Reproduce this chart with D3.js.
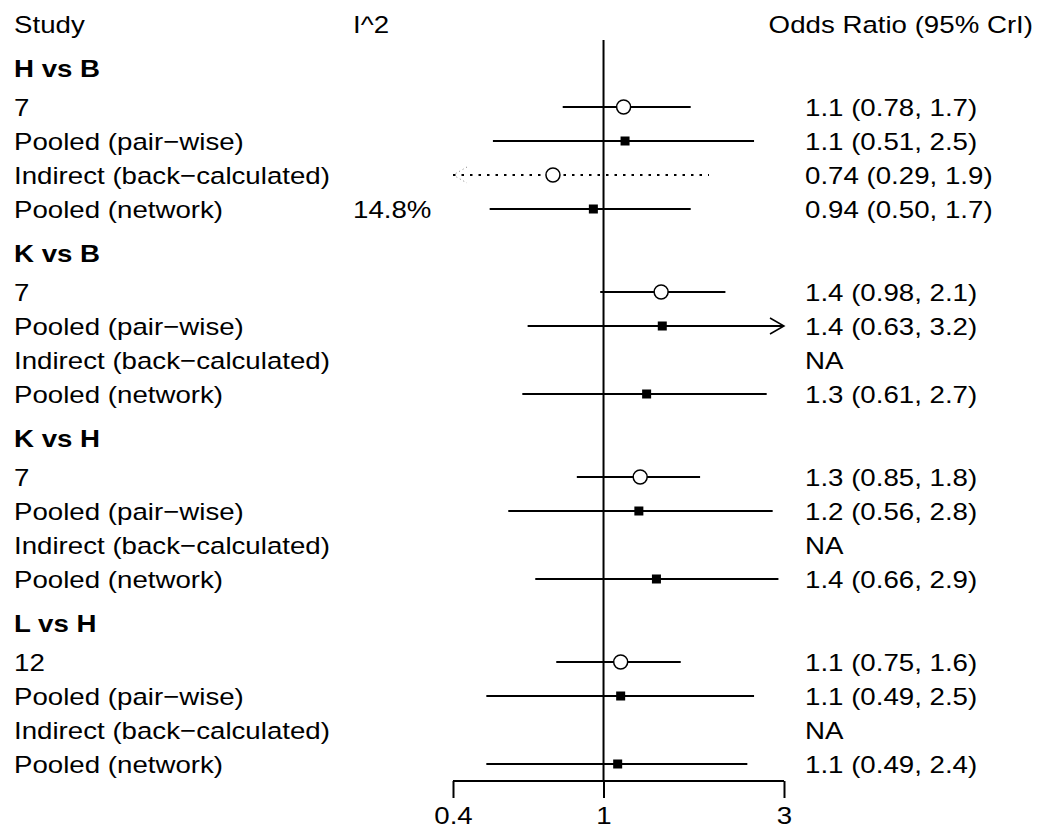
<!DOCTYPE html>
<html>
<head>
<meta charset="utf-8">
<script src="https://cdn.jsdelivr.net/npm/d3@7"></script>
<style>
  html, body { margin: 0; padding: 0; background: #fff; }
  svg { display: block; }
  text { font-family: "Liberation Sans", Arial, sans-serif; fill: #000; }
</style>
</head>
<body>
<svg id="chart" width="1042" height="830"></svg>
<script>
// ---- data ----
const comparisons = ["H vs B", "K vs B", "K vs H", "L vs H"];
const studyCounts = ["7", "7", "7", "12"];
const rowTypes = ["Pooled (pair\u2212wise)", "Indirect (back\u2212calculated)", "Pooled (network)"];
const i2Values = ["14.8%", "", "", ""];
// point estimates (direct study, pooled pair-wise, indirect, network)
const estDirect  = [1.13, 1.42, 1.25, 1.11];
const lowDirect  = [0.78, 0.98, 0.85, 0.75];
const highDirect = [1.7, 2.1, 1.8, 1.6];
const estPair  = [1.14, 1.43, 1.24, 1.11];
const lowPair  = [0.51, 0.63, 0.56, 0.49];
const highPair = [2.5, 3.2, 2.8, 2.5];
const estIndirect  = [0.735, null, null, null];
const lowIndirect  = [0.29, null, null, null];
const highIndirect = [1.9, null, null, null];
const estNetwork  = [0.94, 1.30, 1.38, 1.09];
const lowNetwork  = [0.50, 0.61, 0.66, 0.49];
const highNetwork = [1.7, 2.7, 2.9, 2.4];
const labDirect   = ["1.1 (0.78, 1.7)", "1.4 (0.98, 2.1)", "1.3 (0.85, 1.8)", "1.1 (0.75, 1.6)"];
const labPair     = ["1.1 (0.51, 2.5)", "1.4 (0.63, 3.2)", "1.2 (0.56, 2.8)", "1.1 (0.49, 2.5)"];
const labIndirect = ["0.74 (0.29, 1.9)", "NA", "NA", "NA"];
const labNetwork  = ["0.94 (0.50, 1.7)", "1.3 (0.61, 2.7)", "1.4 (0.66, 2.9)", "1.1 (0.49, 2.4)"];
const axisTicks = [0.4, 1, 3];

// ---- layout ----
const svg = d3.select("#chart");
const FS = 24.7, SX = 1.12;
const x = d3.scaleLog().domain([0.4, 3]).range([453, 784]);
const yRow = (g, r) => 107 + g * 185 + r * 34;
const yHead = g => 68 + g * 185;
const axisY = 781;

function txt(xp, yp, s, opts = {}) {
  svg.append("text")
    .attr("transform", `translate(${xp},${yp}) scale(${SX},1)`)
    .attr("text-anchor", opts.anchor || "start")
    .attr("font-weight", opts.bold ? "bold" : "normal")
    .attr("font-size", FS)
    .text(s);
}
const BL = 9; // baseline offset

// header
txt(14, 33, "Study");
txt(353, 33, "I^2");
txt(1033, 33, "Odds Ratio (95% CrI)", { anchor: "end" });

// reference line at 1
svg.append("line")
  .attr("x1", x(1)).attr("x2", x(1))
  .attr("y1", 40).attr("y2", axisY)
  .attr("stroke", "#000").attr("stroke-width", 2);

// rows
const rows = [];
comparisons.forEach((c, g) => {
  txt(14, yHead(g) + BL, c, { bold: true });
  const rr = [
    { label: studyCounts[g], est: estDirect[g], lo: lowDirect[g], hi: highDirect[g], lab: labDirect[g], kind: "direct" },
    { label: rowTypes[0], est: estPair[g], lo: lowPair[g], hi: highPair[g], lab: labPair[g], kind: "pooled" },
    { label: rowTypes[1], est: estIndirect[g], lo: lowIndirect[g], hi: highIndirect[g], lab: labIndirect[g], kind: "indirect" },
    { label: rowTypes[2], est: estNetwork[g], lo: lowNetwork[g], hi: highNetwork[g], lab: labNetwork[g], kind: "pooled", i2: i2Values[g] }
  ];
  rr.forEach((d, r) => { d.y = yRow(g, r); rows.push(d); });
});

const [dMin, dMax] = x.domain();
rows.forEach(d => {
  txt(14, d.y + BL, d.label);
  if (d.i2) txt(353, d.y + BL, d.i2);
  txt(805, d.y + BL, d.lab);
  if (d.est == null) return;
  const dotted = d.kind === "indirect";
  const x1 = x(Math.max(d.lo, dMin)), x2 = x(Math.min(d.hi, dMax));
  const line = svg.append("line")
    .attr("x1", x1).attr("x2", x2).attr("y1", d.y).attr("y2", d.y)
    .attr("stroke", "#000").attr("stroke-width", 2);
  if (dotted) line.attr("stroke-dasharray", "2.5,6");
  const arrow = (xe, dir) => {
    const p = d3.path();
    p.moveTo(xe - dir * 14, d.y - 8); p.lineTo(xe, d.y); p.lineTo(xe - dir * 14, d.y + 8);
    const a = svg.append("path").attr("d", p.toString()).attr("fill", "none")
      .attr("stroke", "#000").attr("stroke-width", dotted ? 1 : 1.5);
    if (dotted) a.attr("stroke-dasharray", "1,3").attr("stroke-opacity", 0.5);
  };
  if (d.hi > dMax) arrow(x(dMax), 1);
  if (d.lo < dMin) arrow(x(dMin), -1);
  if (d.kind === "pooled") {
    svg.append("rect")
      .attr("x", x(d.est) - 4.5).attr("y", d.y - 4.5)
      .attr("width", 9).attr("height", 9).attr("fill", "#000");
  } else {
    svg.append("circle")
      .attr("cx", x(d.est)).attr("cy", d.y).attr("r", 7)
      .attr("fill", "#fff").attr("stroke", "#000").attr("stroke-width", 1.5);
  }
});

// axis
const axis = d3.axisBottom(x).tickValues(axisTicks).tickFormat(d3.format("")).tickSize(17).tickSizeOuter(0);
const gA = svg.append("g").attr("transform", `translate(0,${axisY})`).call(axis);
gA.select(".domain").attr("stroke-width", 2).attr("d", `M${x(dMin)},0H${x(dMax)}`);
gA.selectAll(".tick line").attr("stroke-width", 2).attr("y2", 17);
gA.selectAll(".tick text")
  .attr("font-size", FS).attr("font-family", "Liberation Sans, Arial, sans-serif")
  .attr("y", 0).attr("dy", 0)
  .attr("transform", `translate(0,43) scale(${SX},1)`);
</script>
</body>
</html>
